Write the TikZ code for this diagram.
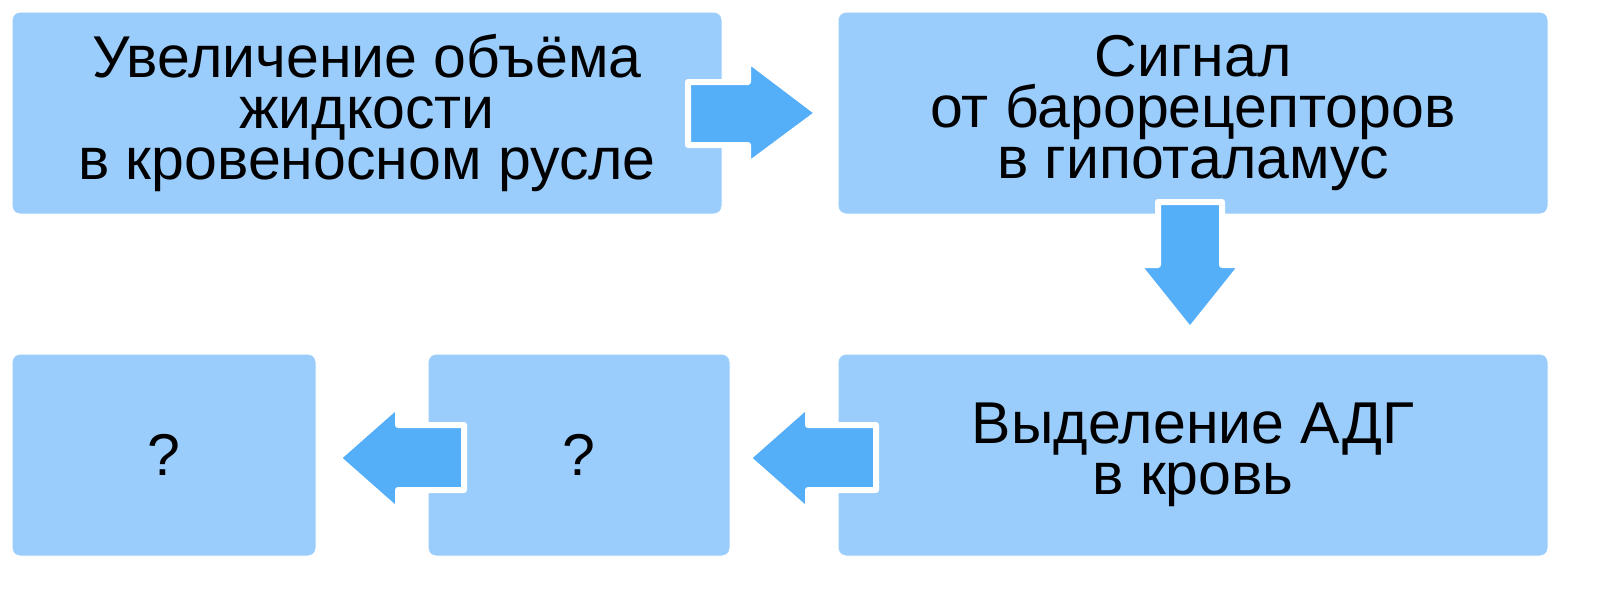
\documentclass[tikz,border=0pt]{standalone}
\usepackage{fontspec}
\setmainfont{Liberation Sans}
\definecolor{boxblue}{HTML}{9ACDFC}
\definecolor{arrblue}{HTML}{55AEF8}
\begin{document}
\begin{tikzpicture}[x=1pt,y=-1pt,
  box/.style={draw=white,line width=1pt,fill=boxblue,rounded corners=8pt,align=center,
    font=\fontsize{59}{51}\selectfont},
  arr/.style={draw=white,line width=6pt,fill=arrblue,line join=round}]
\fill[white] (0,0) rectangle (1604,590);
\node[box,minimum width=710pt,minimum height=202pt] (b1) at (367,113) {Увеличение объёма\\жидкости\\в кровеносном русле};
\node[box,minimum width=710pt,minimum height=202pt] (b2) at (1193,113) {Сигнал\\от барорецепторов\\в гипоталамус};
\node[box,minimum width=710pt,minimum height=202pt] (b3) at (1193,455) {Выделение АДГ\\в кровь};
\node[box,minimum width=302pt,minimum height=202pt] (b4) at (579,455) {?};
\node[box,minimum width=304pt,minimum height=202pt] (b5) at (164,455) {?};
\draw[arr] (688,82) -- (748,82) -- (748,60) -- (818,113) -- (748,165) -- (748,145) -- (688,145) -- cycle;
\draw[arr] (1158,202) -- (1222,202) -- (1222,265) -- (1242,265) -- (1190,330) -- (1138,265) -- (1158,265) -- cycle;
\draw[arr] (876,425) -- (808,425) -- (808,405) -- (748,458) -- (808,511) -- (808,490) -- (876,490) -- cycle;
\draw[arr] (464,425) -- (398,425) -- (398,405) -- (338,458) -- (398,511) -- (398,490) -- (464,490) -- cycle;
\pgfresetboundingbox
\useasboundingbox (0,0) rectangle (1604,590);
\end{tikzpicture}
\end{document}
